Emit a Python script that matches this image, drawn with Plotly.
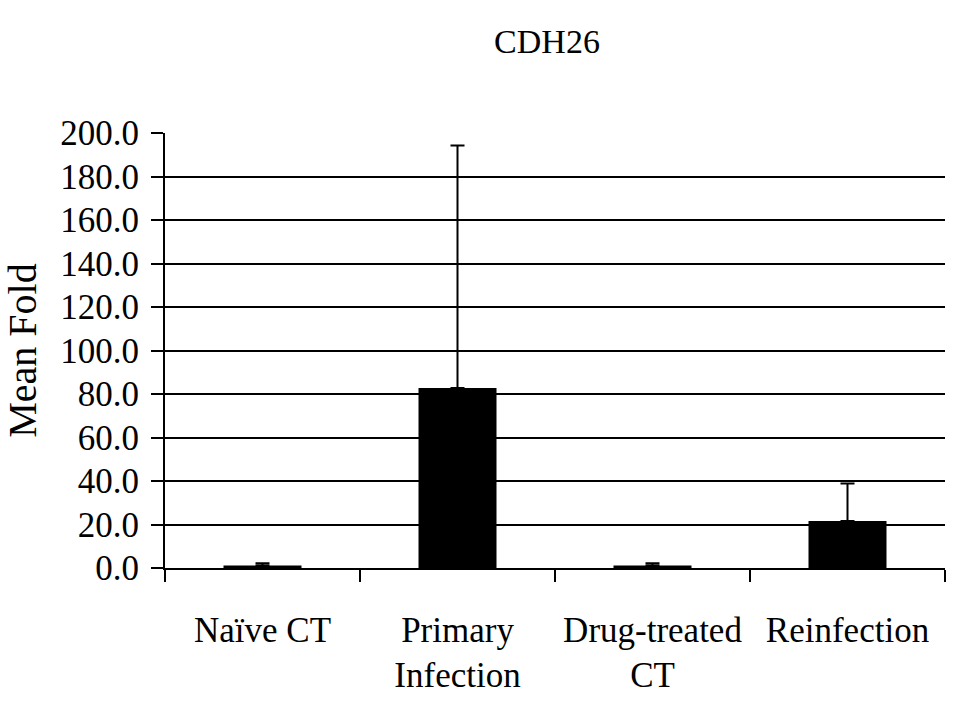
import plotly.graph_objects as go

categories = ["Naïve CT", "Primary<br>Infection", "Drug-treated<br>CT", "Reinfection"]
mean_fold = [1.2, 82.8, 1.2, 21.6]
error_up = [1.0, 111.5, 1.0, 17.2]
y_ticks = [0, 20, 40, 60, 80, 100, 120, 140, 160, 180, 200]

FONT = "Times New Roman"

fig = go.Figure()
fig.add_trace(go.Bar(
    x=categories,
    y=mean_fold,
    width=0.4,
    marker=dict(color="black", line=dict(width=0)),
    error_y=dict(type="data", symmetric=False, array=error_up,
                 arrayminus=[0] * len(error_up),
                 color="black", thickness=2, width=7),
))

fig.update_layout(
    width=960, height=720,
    paper_bgcolor="white", plot_bgcolor="white",
    margin=dict(l=165, r=15, t=133, b=152),
    showlegend=False,
    title=dict(text="CDH26", x=547 / 960, xanchor="center", y=1 - 41 / 720,
               yanchor="middle", font=dict(family=FONT, size=34, color="black")),
    font=dict(family=FONT, color="black"),
)
fig.update_yaxes(
    range=[0, 200], tickvals=y_ticks, tickformat=".1f",
    showgrid=True, gridcolor="black", gridwidth=1.7,
    showline=True, linecolor="black", linewidth=1.8,
    ticks="outside", ticklen=12, tickcolor="black", tickwidth=1.5,
    ticklabelstandoff=5, automargin=False,
    tickfont=dict(family=FONT, size=35, color="black"),
    title=dict(text="Mean Fold", font=dict(family=FONT, size=40, color="black"), standoff=14),
    zeroline=False,
)
fig.update_xaxes(
    range=[-0.5, 3.5], automargin=False,
    showline=True, linecolor="black", linewidth=1.8,
    ticks="outside", tickson="boundaries", ticklen=12, tickcolor="black", tickwidth=1.5,
    ticklabelstandoff=30,
    tickfont=dict(family=FONT, size=35, color="black"),
    showgrid=False,
)

fig.write_html("out.html", config={"displayModeBar": False},
               post_script="document.body.style.margin='0';")
